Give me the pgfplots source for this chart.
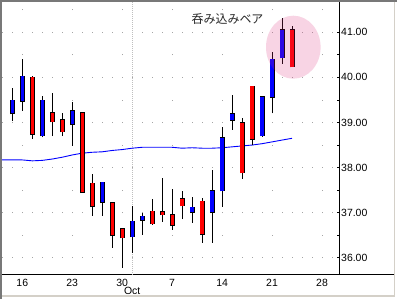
\documentclass[border=0pt]{standalone}
\usepackage{pgfplots}
\usepackage{pgfplotstable}
\pgfplotsset{compat=1.18}
\usepackage{fontspec}
\setmainfont{Liberation Sans}
\newfontfamily\cjk{Noto Sans CJK JP}
\definecolor{gridc}{RGB}{165,165,165}
\definecolor{octc}{RGB}{190,190,190}
\definecolor{framed}{RGB}{120,120,120}
\definecolor{framel}{RGB}{212,208,200}
\definecolor{ellc}{RGB}{220,40,120}
\definecolor{upc}{RGB}{0,0,255}
\definecolor{dnc}{RGB}{255,0,0}
% i = trading day (0 = Sep 13), low, body bottom, body top, high
\pgfplotstableread{
i low bot top high
0 39.04 39.20 39.49 39.76
1 39.26 39.48 40.02 40.41
3 38.67 38.71 39.49 39.59
6 38.48 38.96 39.25 39.45
9 36.93 37.23 37.67 37.67
12 36.11 36.47 36.81 37.15
13 36.51 36.84 36.92 37.00
18 36.78 37.01 37.12 37.35
20 36.33 37.01 37.49 37.94
21 37.13 37.49 38.65 38.89
22 38.84 39.05 39.19 39.61
25 38.68 38.71 39.56 39.56
26 39.20 39.56 40.40 40.56
27 40.30 40.44 41.06 41.31
}\upcandles
\pgfplotstableread{
i low bot top high
2 38.64 38.74 40.00 40.04
4 38.70 39.02 39.22 39.65
5 38.70 38.80 39.05 39.20
7 37.45 37.45 39.22 39.22
8 36.93 37.14 37.65 37.85
10 36.22 36.50 37.21 37.21
11 35.78 36.45 36.65 36.65
14 36.73 36.76 37.03 37.30
15 36.80 36.96 37.01 37.77
16 36.62 36.72 36.96 37.52
17 36.86 37.16 37.30 37.48
19 36.33 36.52 37.25 37.32
23 37.75 37.89 38.99 39.09
24 38.49 38.63 39.80 39.80
28 40.24 40.24 41.06 41.14
}\dncandles
\pgfplotsset{
  wick/.style={draw=none, mark=none, error bars/.cd, y dir=plus, y explicit,
    error mark=none, error bar style={draw=black, line width=1bp}},
  bodyout/.style={draw=none, mark=none, error bars/.cd, y dir=plus, y explicit,
    error mark=none, error bar style={draw=black, line width=5bp}},
  bodyin/.style={draw=none, mark=none, error bars/.cd, y dir=plus, y explicit,
    error mark=none, error bar style={draw=#1, line width=3.3bp}},
}
\begin{document}
\begin{tikzpicture}
\fill[white] (0,0) rectangle (397bp,299bp);
\begin{axis}[
  at={(2bp,24bp)}, anchor=south west,
  scale only axis, width=337bp, height=273bp,
  xmin=-1.03, xmax=32.7, ymin=35.62, ymax=41.67,
  axis x line*=bottom, axis y line*=right,
  axis line style={-, black, line width=1bp},
  xtick={1,6,11,16,21,26,31}, xticklabels={16,23,30,7,14,21,28},
  extra x ticks={12}, extra x tick labels={Oct},
  extra x tick style={xticklabel style={yshift=-8bp}, xmajorgrids=false, major tick length=0pt},
  ytick={36,37,38,39,40,41},
  minor y tick num=1,
  xmajorgrids, ymajorgrids,
  x grid style={gridc, line width=0.8bp, dash pattern=on 0.8bp off 21.76bp, dash phase=5.8bp},
  y grid style={gridc, line width=0.8bp, dash pattern=on 0.8bp off 9.2bp},
  xtick style={draw=none},
  ytick style={black, line width=0.8bp},
  tick align=inside, major tick length=2.5bp, minor tick length=2bp,
  ticklabel style={font=\fontsize{10.5}{12}\selectfont},
  xticklabel style={anchor=north, inner sep=0pt, yshift=-4.3bp},
  yticklabel style={/pgf/number format/fixed, /pgf/number format/fixed zerofill,
    /pgf/number format/precision=2, /pgf/number format/assume math mode=true,
    anchor=west, inner sep=0pt, xshift=2bp},
]
\draw[octc, dash pattern=on 1bp off 1bp, line width=0.8bp] (axis cs:12,35.62) -- (axis cs:12,41.67);
\addplot[upc, line width=0.9bp] coordinates {(-1.03,38.17)(0,38.17)(1,38.17)(2,38.15)(3,38.16)(4,38.19)(5,38.23)(6,38.28)(7,38.32)(8,38.34)(9,38.35)(10,38.38)(11,38.40)(12,38.43)(13,38.45)(14,38.45)(15,38.45)(16,38.45)(17,38.43)(18,38.44)(19,38.43)(20,38.43)(21,38.44)(22,38.46)(23,38.48)(24,38.50)(25,38.53)(26,38.57)(27,38.61)(28,38.65)};
% wicks
\addplot[wick] table[x=i, y=low, y error expr=\thisrow{high}-\thisrow{low}] {\upcandles};
\addplot[wick] table[x=i, y=low, y error expr=\thisrow{high}-\thisrow{low}] {\dncandles};
% body outlines
\addplot[bodyout] table[x=i, y expr=\thisrow{bot}-0.0177, y error expr=\thisrow{top}-\thisrow{bot}+0.0354] {\upcandles};
\addplot[bodyout] table[x=i, y expr=\thisrow{bot}-0.0177, y error expr=\thisrow{top}-\thisrow{bot}+0.0354] {\dncandles};
% body fills
\addplot[bodyin=upc] table[x=i, y=bot, y error expr=\thisrow{top}-\thisrow{bot}] {\upcandles};
\addplot[bodyin=dnc] table[x=i, y=bot, y error expr=\thisrow{top}-\thisrow{bot}] {\dncandles};
\end{axis}
% x axis line continues under the label column
\draw[black, line width=1bp] (339bp,24bp) -- (393.5bp,24bp);
% highlight
\fill[ellc, opacity=0.2] (293.3bp,251.8bp) ellipse [x radius=27.3bp, y radius=31.5bp];
\node[anchor=west, inner sep=0pt, text=black!85] at (191.5bp,279.5bp) {\cjk\fontsize{12}{14}\selectfont 呑み込みベア};
% window frame
\fill[framed] (0,297bp) rectangle (397bp,299bp);
\fill[framed] (0,0) rectangle (2bp,299bp);
\fill[framel] (2bp,2bp) rectangle (395bp,3.5bp);
\fill[framel] (393.5bp,2bp) rectangle (395bp,297bp);
\end{tikzpicture}
\end{document}
